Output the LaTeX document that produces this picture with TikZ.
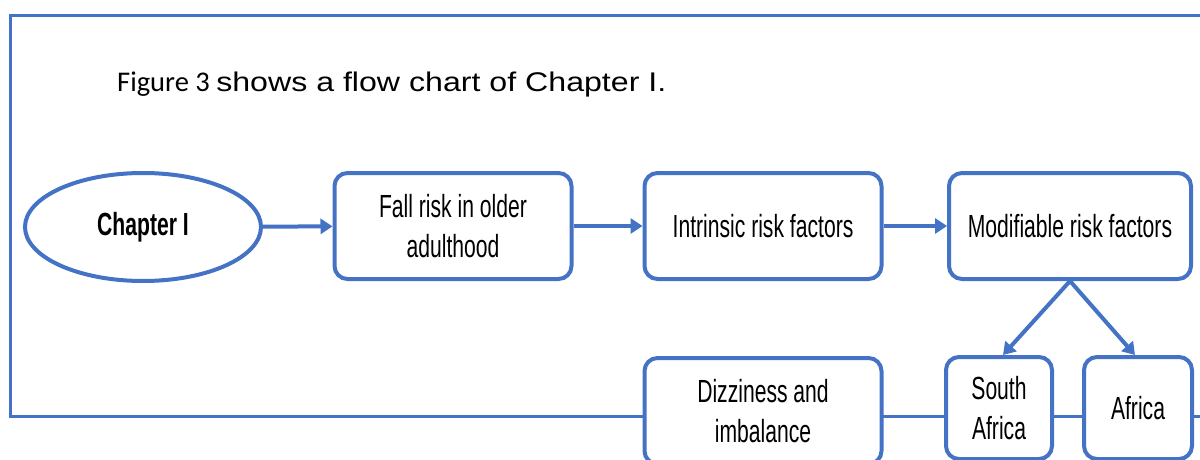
\documentclass[tikz,border=0pt]{standalone}
\usepackage{fontspec}
\setmainfont{Liberation Sans}
\newfontfamily\narrowfont[FakeStretch=0.66]{Liberation Sans}
\newfontfamily\titlefont[FakeStretch=1.19]{Liberation Sans}
\newfontfamily\calibfont{Carlito}
\usetikzlibrary{shapes.geometric,arrows.meta}
\definecolor{officeblue}{HTML}{4472C4}
\tikzset{
  frameline/.style={draw=officeblue,line width=3.5pt},
  ellbox/.style={ellipse,draw=officeblue,line width=4pt,fill=white,
    minimum width=236pt,minimum height=108pt,inner sep=0pt,
    font=\narrowfont\bfseries\fontsize{32}{40}\selectfont},
  stepbox/.style={rectangle,rounded corners=13pt,draw=officeblue,line width=4pt,
    fill=white,minimum height=106pt,inner sep=0pt,align=center,
    font=\narrowfont\fontsize{32}{40}\selectfont},
  link/.style={draw=officeblue,line width=4pt,
    -{Triangle[length=12pt,width=15pt]}}
}
\begin{document}
\begin{tikzpicture}[x=1pt,y=-1pt]
\useasboundingbox (0,0) rectangle (1200,460);
\clip (0,0) rectangle (1200,460);
% outer frame, open towards the right
\draw[frameline] (1202,15.5) -- (10.5,15.5) -- (10.5,416.5) -- (1202,416.5);
% caption line
\node[anchor=base west,inner sep=0pt] (cap) at (117,92)
  {{\calibfont\fontsize{28.5}{34}\selectfont Figure 3\ }{\titlefont\fontsize{27}{32}\selectfont shows a flow chart of Chapter I.}};
% top row
\node[ellbox] (ch) at (143,227) {Chapter I};
\node[stepbox,minimum width=237pt] (fall) at (453,226) {Fall risk in older\\adulthood};
\node[stepbox,minimum width=237pt] (intr) at (763,226) {Intrinsic risk factors};
\node[stepbox,minimum width=242pt] (mod) at (1070,226) {Modifiable risk factors};
% bottom row
\node[stepbox,minimum width=237pt] (dizz) at (763,411) {Dizziness and\\imbalance};
\node[stepbox,minimum width=106pt,minimum height=102pt] (sa) at (999,408) {South\\Africa};
\node[stepbox,minimum width=108pt,minimum height=102pt] (af) at (1138,408) {Africa};
% connectors
\draw[link] (ch) -- (fall);
\draw[link] (fall) -- (intr);
\draw[link] (intr) -- (mod);
\coordinate (fork) at (mod.south);
\draw[link] (fork) -- ([xshift=4pt]sa.north);
\draw[link] (fork) -- ([xshift=-3pt]af.north);
\end{tikzpicture}
\end{document}
